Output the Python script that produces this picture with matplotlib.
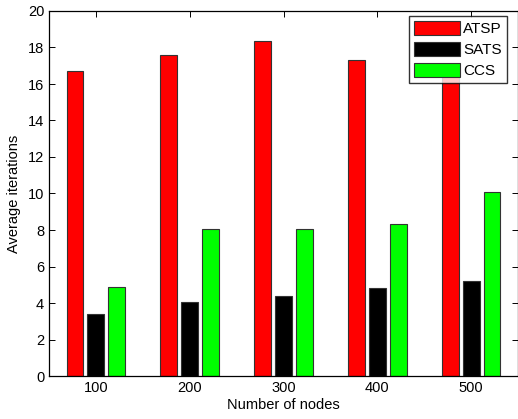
import numpy as np
import matplotlib.pyplot as plt

plt.rcParams['font.family'] = ['Liberation Sans', 'DejaVu Sans']

nodes = ['100', '200', '300', '400', '500']
atsp = [16.73, 17.58, 18.36, 17.33, 16.5]
sats = [3.40, 4.05, 4.37, 4.82, 5.20]
ccs = [4.88, 8.05, 8.05, 8.35, 10.08]

fig = plt.figure(figsize=(5.18, 4.19), dpi=100)
ax = fig.add_axes([49 / 518, 43 / 419, 469 / 518, 365 / 419])

x = np.arange(1, len(nodes) + 1)
w = 0.18
step = 0.223
ax.bar(x - step, atsp, w, color='#ff0000', edgecolor='#333333', linewidth=0.8, label='ATSP')
ax.bar(x, sats, w, color='#000000', edgecolor='#333333', linewidth=0.8, label='SATS')
ax.bar(x + step, ccs, w, color='#00ff00', edgecolor='#333333', linewidth=0.8, label='CCS')

ax.set_xlim(0.5, 5.5)
ax.set_ylim(0, 20)
ax.set_xticks(x)
ax.set_xticklabels(nodes)
ax.set_yticks(np.arange(0, 21, 2))
ax.tick_params(direction='in', top=True, right=True, labelsize=10.5, length=4, width=0.7)
ax.set_xlabel('Number of nodes', fontsize=10.5, labelpad=2)
ax.set_ylabel('Average iterations', fontsize=10.5, labelpad=5)
for s in ax.spines.values():
    s.set_linewidth(0.9)

leg = ax.legend(loc='upper right', fontsize=11, fancybox=False, edgecolor='black',
                handlelength=3.0, handleheight=1.0, borderpad=0.3, labelspacing=0.4,
                handletextpad=0.25, borderaxespad=0.35, bbox_to_anchor=(0.987, 1.0))
leg.get_frame().set_linewidth(1.0)

fig.savefig('out.png', dpi=100)
